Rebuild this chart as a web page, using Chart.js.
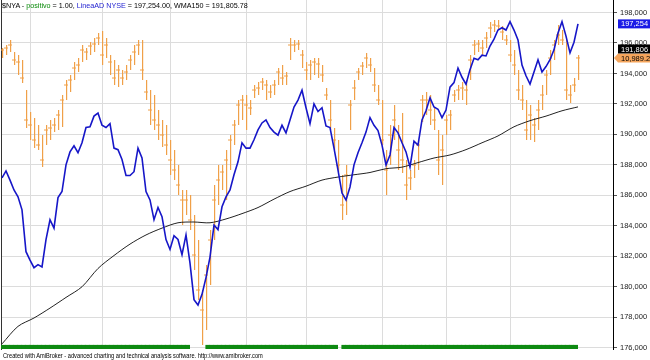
<!DOCTYPE html>
<html>
<head>
<meta charset="utf-8">
<script src="https://cdn.jsdelivr.net/npm/chart.js@4"></script>
<style>
  body { margin: 0; background: #fff; }
  #wrap { position: relative; width: 650px; height: 360px; }
  .txt { position: absolute; white-space: nowrap; font-family: "Liberation Sans", Arial, sans-serif; color: #000; transform-origin: left top; }
  #title { left: 2px; top: 1px; font-size: 8px; }
  #footer { left: 3px; top: 352px; font-size: 7px; }
</style>
</head>
<body>
<div id="wrap">
  <canvas id="chart" width="650" height="360"></canvas>
  <div id="title" class="txt">$NYA - <span style="color:#0a8a0a">positivo</span> = 1.00, <span style="color:#1c1cd0">LineaAD NYSE</span> = 197,254.00, WMA150 = 191,805.78</div>
  <div id="footer" class="txt">Created with AmiBroker - advanced charting and technical analysis software. http://www.amibroker.com</div>
</div>
<script>
// $NYA daily bars (high / low / close)
const priceHigh = [
  11029,11041,11061,11013,11001,10981,10861,10773,10749,10721,
  10681,10721,10741,10749,10781,10841,10901,10921,10973,10989,
  11041,11029,11053,11069,11089,11097,11069,11001,10981,10961,
  10941,10961,11001,11041,11061,11061,10901,10861,10841,10781,
  10741,10721,10661,10621,10561,10461,10461,10441,10361,10261,
  10061,10161,10301,10481,10561,10561,10621,10681,10741,10821,
  10841,10841,10821,10881,10893,10909,10901,10881,10901,10949,
  10961,10933,11069,11061,11061,11021,10973,10981,10989,10989,
  10961,10869,10821,10709,10661,10521,10561,10821,10901,10949,
  10973,11009,10989,10949,10881,10821,10621,10721,10801,10721,
  10769,10581,10541,10581,10661,10841,10853,10841,10789,10701,
  10681,10761,10781,10861,10881,10893,10901,11001,11061,11061,
  11061,11093,11133,11141,11141,11117,11081,11061,11021,10941,
  10881,10821,10801,10749,10821,10881,10941,11021,11061,11121,
  11101,11061,10881,10909,11001
];
const priceLow = [
  10989,11001,11013,10961,10921,10889,10709,10661,10629,10621,
  10553,10641,10661,10693,10701,10713,10821,10853,10901,10933,
  10973,10981,11001,11013,11041,10961,10989,10921,10881,10873,
  10881,10901,10941,10961,11001,10901,10821,10721,10701,10661,
  10633,10601,10521,10501,10441,10321,10361,10301,10141,10021,
  9841,9901,10081,10261,10401,10461,10421,10541,10641,10721,
  10741,10701,10761,10829,10841,10861,10821,10829,10841,10881,
  10881,10881,10981,11013,11021,10949,10901,10901,10921,10909,
  10893,10821,10701,10621,10533,10341,10361,10701,10821,10901,
  10921,10949,10933,10853,10801,10641,10441,10561,10661,10541,
  10529,10421,10461,10509,10541,10733,10761,10721,10701,10521,
  10481,10681,10701,10813,10821,10821,10801,10901,11001,11013,
  11001,11029,11069,11093,11101,11061,11041,10973,10921,10821,
  10781,10661,10661,10653,10701,10781,10841,10921,10981,11041,
  11041,10821,10809,10853,10901
];
const priceClose = [
  11021,11029,11041,10981,10973,10909,10741,10721,10661,10641,
  10581,10701,10709,10721,10761,10821,10881,10901,10949,10961,
  11021,11013,11037,11045,11069,11001,11041,10973,10909,10941,
  10909,10933,10981,11013,11041,10941,10853,10781,10741,10721,
  10681,10641,10581,10541,10481,10421,10421,10341,10201,10061,
  9981,10121,10261,10421,10501,10533,10581,10661,10721,10801,
  10821,10801,10789,10861,10869,10893,10881,10853,10881,10933,
  10909,10917,11041,11041,11045,11001,10941,10961,10973,10965,
  10921,10841,10741,10661,10561,10401,10521,10801,10869,10933,
  10957,10989,10961,10881,10821,10661,10541,10681,10741,10621,
  10581,10481,10509,10561,10641,10821,10821,10781,10741,10581,
  10621,10741,10761,10841,10861,10869,10861,10981,11041,11045,
  11029,11069,11109,11121,11117,11093,11061,11001,10961,10861,
  10821,10701,10761,10721,10781,10841,10921,10989,11041,11081,
  11061,10861,10841,10881,10989.2
];
// LineaAD NYSE
const adLine = [
  187150,187600,187000,186350,185900,185050,182300,181750,181250,181450,
  181300,183100,184400,183850,185850,186250,188000,188850,189250,188800,
  189450,190450,190500,191200,191400,190600,190450,190700,189100,189000,
  188350,187300,187300,187550,189100,188450,186250,185700,184400,185200,
  184600,183100,182450,183350,183100,182100,183400,181550,179150,178800,
  179500,180600,181950,184050,183750,185250,185900,186350,187350,188200,
  189450,189100,189100,189650,190300,190750,190950,190450,190150,189950,
  190600,190100,190950,191800,192250,192900,191750,190700,192000,191500,
  191750,190550,190450,189100,187650,186150,185700,186550,188000,188800,
  189450,190150,191100,190600,190250,189300,188000,188650,190450,190100,
  189450,188850,187850,189550,189300,190950,191550,192400,191800,191650,
  191100,191600,193100,193400,194350,193750,193300,194250,195000,194900,
  195200,195150,195800,196250,196850,197000,196850,197400,196850,196200,
  194550,193850,193300,194100,194900,194100,194450,194900,195550,196650,
  197400,196450,195350,196050,197254
];
// WMA150 of the AD line, read every 4 bars
const wmaIdx = [0,4,8,12,16,20,24,28,32,36,40,44,48,52,56,60,64,68,72,76,80,84,88,92,96,100,104,108,112,116,120,124,128,132,136,140,144];
const wmaVal = [
  176250,177400,177950,178600,179300,180000,181200,182050,182800,183400,
  183850,184200,184250,184200,184450,184800,185200,185750,186250,186600,
  187000,187200,187350,187500,187750,187850,188150,188450,188650,189000,
  189450,189900,190500,190900,191200,191550,191805.78
];
// positivo flag
const positivo = [
  1,1,1,1,1,1,1,1,1,1, 1,1,1,1,1,1,1,1,1,1,
  1,1,1,1,1,1,1,1,1,1, 1,1,1,1,1,1,1,1,1,1,
  1,1,1,1,1,1,1,1,0,0, 0,0,1,1,1,1,1,1,1,1,
  1,1,1,1,1,1,1,1,1,1, 1,1,1,1,1,1,1,1,1,1,
  1,1,1,1,1,0,1,1,1,1, 1,1,1,1,1,1,1,1,1,1,
  1,1,1,1,1,1,1,1,1,1, 1,1,1,1,1,1,1,1,1,1,
  1,1,1,1,1,1,1,1,1,1, 1,1,1,1,1,1,1,1,1,1,
  1,1,1,1,1
];
// first bar of each month (vertical grid)
const monthStarts = [7, 25, 42, 61, 76, 95, 111, 127];
// right axis ticks
const adTicks = [176000,178000,180000,182000,184000,186000,188000,190000,192000,194000,196000,198000];

const ORANGE = '#f0a048';

const axisTags = {
  id: 'axisTags',
  afterDraw(chart) {
    const { ctx, scales } = chart;
    const x0 = scales.y.left;
    const right = chart.width;
    const lastAD = adLine[adLine.length - 1];
    const lastWma = wmaVal[wmaVal.length - 1];
    const lastClose = priceClose[priceClose.length - 1];
    const yAD = scales.y.getPixelForValue(lastAD);
    const yPx = scales.yPrice.getPixelForValue(lastClose);
    ctx.save();
    ctx.font = '7.5px "Liberation Sans", Arial, sans-serif';
    ctx.textBaseline = 'middle';
    const tag = (y, text, bg, fg, arrow) => {
      const h = 9, left = x0 + 5;
      ctx.fillStyle = bg;
      ctx.beginPath();
      if (arrow) {
        ctx.moveTo(x0 + 1, y);
        ctx.lineTo(left, y - h / 2);
        ctx.lineTo(right, y - h / 2);
        ctx.lineTo(right, y + h / 2);
        ctx.lineTo(left, y + h / 2);
        ctx.closePath();
      } else {
        ctx.rect(left, y - h / 2, right - left, h);
      }
      ctx.fill();
      ctx.fillStyle = fg;
      ctx.fillText(text, left + 3, y + 0.5);
    };
    tag(yAD, Math.round(lastAD).toLocaleString('en-US'), '#1a1ae6', '#fff');
    tag(yPx, lastClose.toLocaleString('en-US', { minimumFractionDigits: 1 }), '#f5a55c', '#000', true);
    tag(yPx - 9, Math.round(lastWma).toLocaleString('en-US'), '#000', '#fff');
    ctx.restore();
  }
};

new Chart(document.getElementById('chart'), {
  type: 'bar',
  data: {
    datasets: [
      {
        type: 'line',
        label: 'LineaAD NYSE',
        data: adLine.map((v, i) => ({ x: i, y: v })),
        yAxisID: 'y',
        borderColor: '#1616c8',
        borderWidth: 1.6,
        pointRadius: 0,
        tension: 0,
        order: 0
      },
      {
        type: 'line',
        label: 'WMA150',
        data: wmaIdx.map((x, k) => ({ x: x, y: wmaVal[k] })),
        yAxisID: 'y',
        borderColor: '#222',
        borderWidth: 1,
        pointRadius: 0,
        tension: 0.3,
        order: 1
      },
      {
        label: 'positivo',
        data: positivo.map((v, i) => ({ x: i, y: v })),
        yAxisID: 'yPos',
        backgroundColor: '#0e8a12',
        barThickness: 4.6,
        inflateAmount: 0,
        order: 2
      },
      {
        type: 'scatter',
        label: 'close',
        data: priceClose.map((v, i) => ({ x: i, y: v })),
        yAxisID: 'yPrice',
        pointStyle: 'line',
        pointRadius: 2,
        borderColor: ORANGE,
        borderWidth: 1,
        order: 3
      },
      {
        label: '$NYA',
        data: priceHigh.map((h, i) => ({ x: i, y: [priceLow[i], h] })),
        yAxisID: 'yPrice',
        backgroundColor: ORANGE,
        barThickness: 1.2,
        inflateAmount: 0,
        order: 4
      }
    ]
  },
  options: {
    responsive: false,
    animation: false,
    devicePixelRatio: 1,
    layout: { autoPadding: false, padding: { left: 0, right: 0, top: 0, bottom: 11 } },
    plugins: { legend: { display: false }, tooltip: { enabled: false } },
    scales: {
      x: {
        type: 'linear',
        offset: false,
        min: -0.25,
        max: 152.75,
        afterBuildTicks: s => { s.ticks = monthStarts.map(v => ({ value: v })); },
        afterFit: s => { s.height = 0; s.paddingLeft = 0; s.paddingRight = 0; },
        ticks: { display: false },
        grid: { color: '#dcdcdc', drawTicks: false, offset: false },
        border: { display: false }
      },
      y: {
        position: 'right',
        min: 175915,
        max: 198821,
        afterFit: s => { s.width = 37; s.paddingTop = 0; s.paddingBottom = 0; },
        afterBuildTicks: s => { s.ticks = adTicks.map(v => ({ value: v })); },
        ticks: {
          padding: 3,
          color: '#222',
          font: { family: '"Liberation Sans", Arial, sans-serif', size: 7.5 },
          callback: v => v.toLocaleString('en-US')
        },
        grid: { color: '#dcdcdc', tickLength: 4, tickColor: '#555' },
        border: { display: true, color: '#000', width: 1 }
      },
      yPrice: {
        position: 'left',
        min: 9825,
        max: 11221,
        afterFit: s => { s.width = 1; s.paddingTop = 0; s.paddingBottom = 0; },
        ticks: { display: false },
        grid: { drawOnChartArea: false, drawTicks: false },
        border: { display: true, color: '#333', width: 1 }
      },
      yPos: {
        display: false,
        min: 0,
        max: 85
      }
    }
  },
  plugins: [axisTags]
});

// squeeze header/footer text to the width AmiBroker uses
[['title', 246], ['footer', 260]].forEach(([id, w]) => {
  const el = document.getElementById(id);
  el.style.transform = 'scaleX(' + (w / el.offsetWidth) + ')';
});
</script>
</body>
</html>
